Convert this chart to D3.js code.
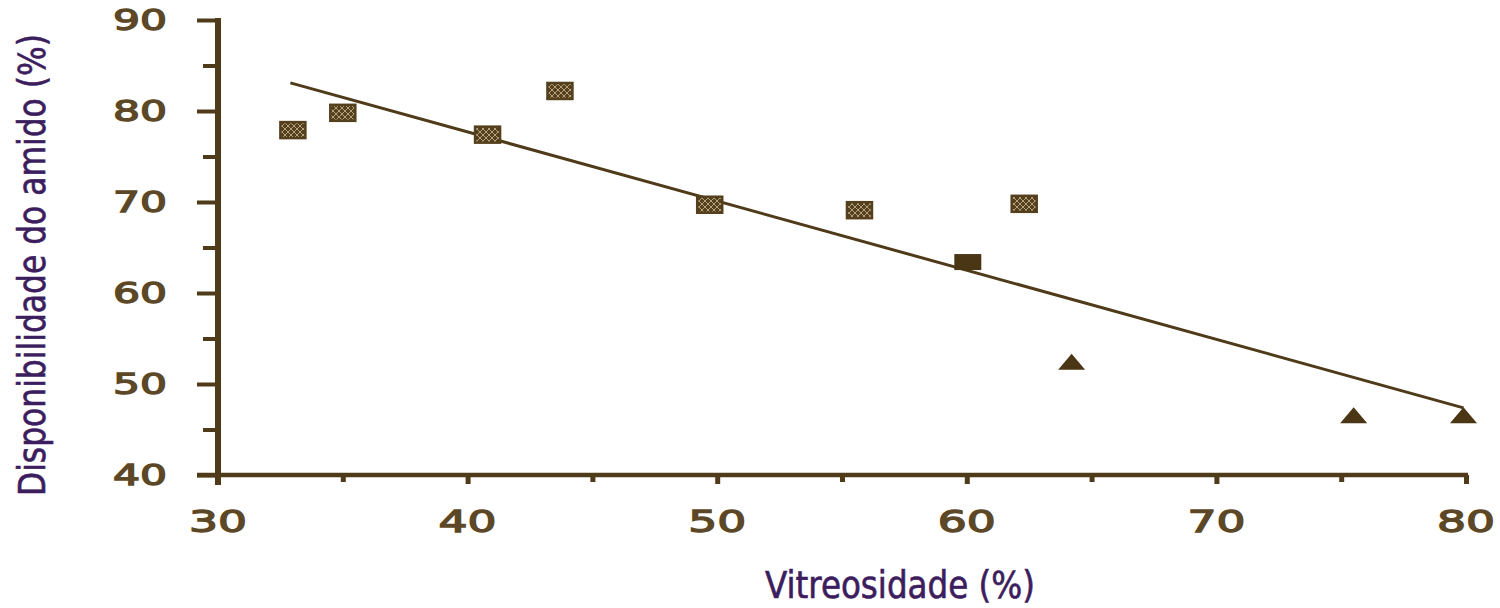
<!DOCTYPE html>
<html>
<head>
<meta charset="utf-8">
<script src="https://cdn.jsdelivr.net/npm/d3@7"></script>
<style>
  html, body { margin: 0; padding: 0; background: #ffffff; }
  svg { display: block; }
</style>
</head>
<body>
<svg id="chart" width="1500" height="608"></svg>
<script>
// Vitreousness (%) vs starch availability (%) — one point per hybrid
const vitreoSquare = [33, 35, 40.8, 43.7, 49.7, 55.7, 62.3];
const amidoSquare  = [77.9, 79.8, 77.4, 82.2, 69.7, 69.1, 69.8];
const vitreoSolid  = [60.0];
const amidoSolid   = [63.4];
const vitreoTri    = [64.2, 75.5, 79.9];
const amidoTri     = [52.4, 46.5, 46.5];

// Fitted regression: amido = intercept + slope * vitreo
const fitIntercept = 108.1;
const fitSlope = -0.76;
const fitRange = [32.9, 79.9];

const xMajorTicks = [30, 40, 50, 60, 70, 80];
const xMinorTicks = [35, 45, 55, 65, 75];
const yMajorTicks = [40, 50, 60, 70, 80, 90];
const yMinorTicks = [45, 55, 65, 75, 85];

const axisTitleX = "Vitreosidade (%)";
const axisTitleY = "Disponibilidade do amido (%)";

const ink = "#4f3b1a";
const tickInk = "#5c4826";
const titleInk = "#3c1d5e";

const svg = d3.select("#chart");

const x = d3.scaleLinear().domain([30, 80]).range([218, 1466]);
const y = d3.scaleLinear().domain([40, 90]).range([475, 20]);

// hatched fill for the square markers
const defs = svg.append("defs");
const pat = defs.append("pattern")
  .attr("id", "hatch").attr("patternUnits", "userSpaceOnUse")
  .attr("width", 6).attr("height", 6);
pat.append("rect").attr("width", 6).attr("height", 6).attr("fill", "#54401d");
pat.append("path").attr("d", "M0,6 L6,0 M0,0 L6,6")
  .attr("stroke", "#cdb994").attr("stroke-width", 0.8);

// ---- Y axis ----
const yAxisMajor = d3.axisLeft(y).tickValues(yMajorTicks).tickSize(21).tickFormat("");
const yAxisMinor = d3.axisLeft(y).tickValues(yMinorTicks).tickSize(15).tickFormat("");
const gy = svg.append("g").attr("transform", `translate(${x(30)},0)`);
gy.call(yAxisMajor);
gy.append("g").call(yAxisMinor);
gy.selectAll("path.domain").remove();
gy.selectAll("line").attr("stroke", ink).attr("stroke-width", 4);
gy.append("line")
  .attr("x1", 0).attr("x2", 0)
  .attr("y1", y(90) - 2).attr("y2", y(40) + 10)
  .attr("stroke", ink).attr("stroke-width", 6);

svg.append("g").selectAll("text").data(yMajorTicks).join("text")
  .attr("x", 140).attr("y", d => y(d) + 10)
  .attr("text-anchor", "middle")
  .attr("font-family", "DejaVu Sans, sans-serif")
  .attr("font-size", 28)
  .attr("fill", tickInk)
  .attr("stroke", tickInk).attr("stroke-width", 1.3)
  .attr("textLength", 54).attr("lengthAdjust", "spacingAndGlyphs")
  .text(d => d);

// ---- X axis ----
const xAxisMajor = d3.axisBottom(x).tickValues(xMajorTicks.slice(1)).tickSize(9).tickFormat("");
const xAxisMinor = d3.axisBottom(x).tickValues(xMinorTicks).tickSize(7).tickFormat("");
const gx = svg.append("g").attr("transform", `translate(0,${y(40)})`);
gx.call(xAxisMajor);
gx.append("g").call(xAxisMinor);
gx.selectAll("path.domain").remove();
gx.selectAll("line").attr("stroke", ink).attr("stroke-width", 5);
gx.append("line")
  .attr("x1", x(30) - 21).attr("x2", x(80) + 2)
  .attr("y1", 0).attr("y2", 0)
  .attr("stroke", ink).attr("stroke-width", 4.5);

svg.append("g").selectAll("text").data(xMajorTicks).join("text")
  .attr("x", d => x(d)).attr("y", 532)
  .attr("text-anchor", "middle")
  .attr("font-family", "DejaVu Sans, sans-serif")
  .attr("font-size", 30)
  .attr("fill", tickInk)
  .attr("stroke", tickInk).attr("stroke-width", 1.3)
  .attr("textLength", 58).attr("lengthAdjust", "spacingAndGlyphs")
  .text(d => d);

// ---- regression line ----
const fitPts = fitRange.map(v => [v, fitIntercept + fitSlope * v]);
svg.append("path")
  .attr("d", d3.line().x(d => x(d[0])).y(d => y(d[1]))(fitPts))
  .attr("fill", "none").attr("stroke", ink).attr("stroke-width", 3);

// ---- markers ----
const mw = 25, mh = 16;
svg.append("g").selectAll("rect")
  .data(vitreoSquare.map((v, i) => [v, amidoSquare[i]])).join("rect")
  .attr("x", d => x(d[0]) - mw / 2).attr("y", d => y(d[1]) - mh / 2)
  .attr("width", mw).attr("height", mh)
  .attr("fill", "url(#hatch)").attr("stroke", "#54401d").attr("stroke-width", 2.5);

svg.append("g").selectAll("rect")
  .data(vitreoSolid.map((v, i) => [v, amidoSolid[i]])).join("rect")
  .attr("x", d => x(d[0]) - mw / 2).attr("y", d => y(d[1]) - mh / 2)
  .attr("width", mw + 2).attr("height", mh)
  .attr("fill", "#4a3514");

const tw = 27, th = 15;
svg.append("g").selectAll("path")
  .data(vitreoTri.map((v, i) => [v, amidoTri[i]])).join("path")
  .attr("d", d => {
    const cx = x(d[0]), cy = y(d[1]);
    return `M${cx},${cy - th / 2 - 1} L${cx + tw / 2},${cy + th / 2} L${cx - tw / 2},${cy + th / 2} Z`;
  })
  .attr("fill", "#4a3514");

// ---- axis titles ----
svg.append("text")
  .attr("transform", `translate(45,${265}) rotate(-90)`)
  .attr("text-anchor", "middle")
  .attr("font-family", "DejaVu Sans Condensed, DejaVu Sans, sans-serif")
  .attr("font-size", 37)
  .attr("fill", titleInk)
  .attr("stroke", titleInk).attr("stroke-width", 0.6)
  .attr("textLength", 462).attr("lengthAdjust", "spacingAndGlyphs")
  .text(axisTitleY);

svg.append("text")
  .attr("x", 900).attr("y", 598)
  .attr("text-anchor", "middle")
  .attr("font-family", "DejaVu Sans Condensed, DejaVu Sans, sans-serif")
  .attr("font-size", 37)
  .attr("fill", titleInk)
  .attr("stroke", titleInk).attr("stroke-width", 0.6)
  .attr("textLength", 270).attr("lengthAdjust", "spacingAndGlyphs")
  .text(axisTitleX);
</script>
</body>
</html>
